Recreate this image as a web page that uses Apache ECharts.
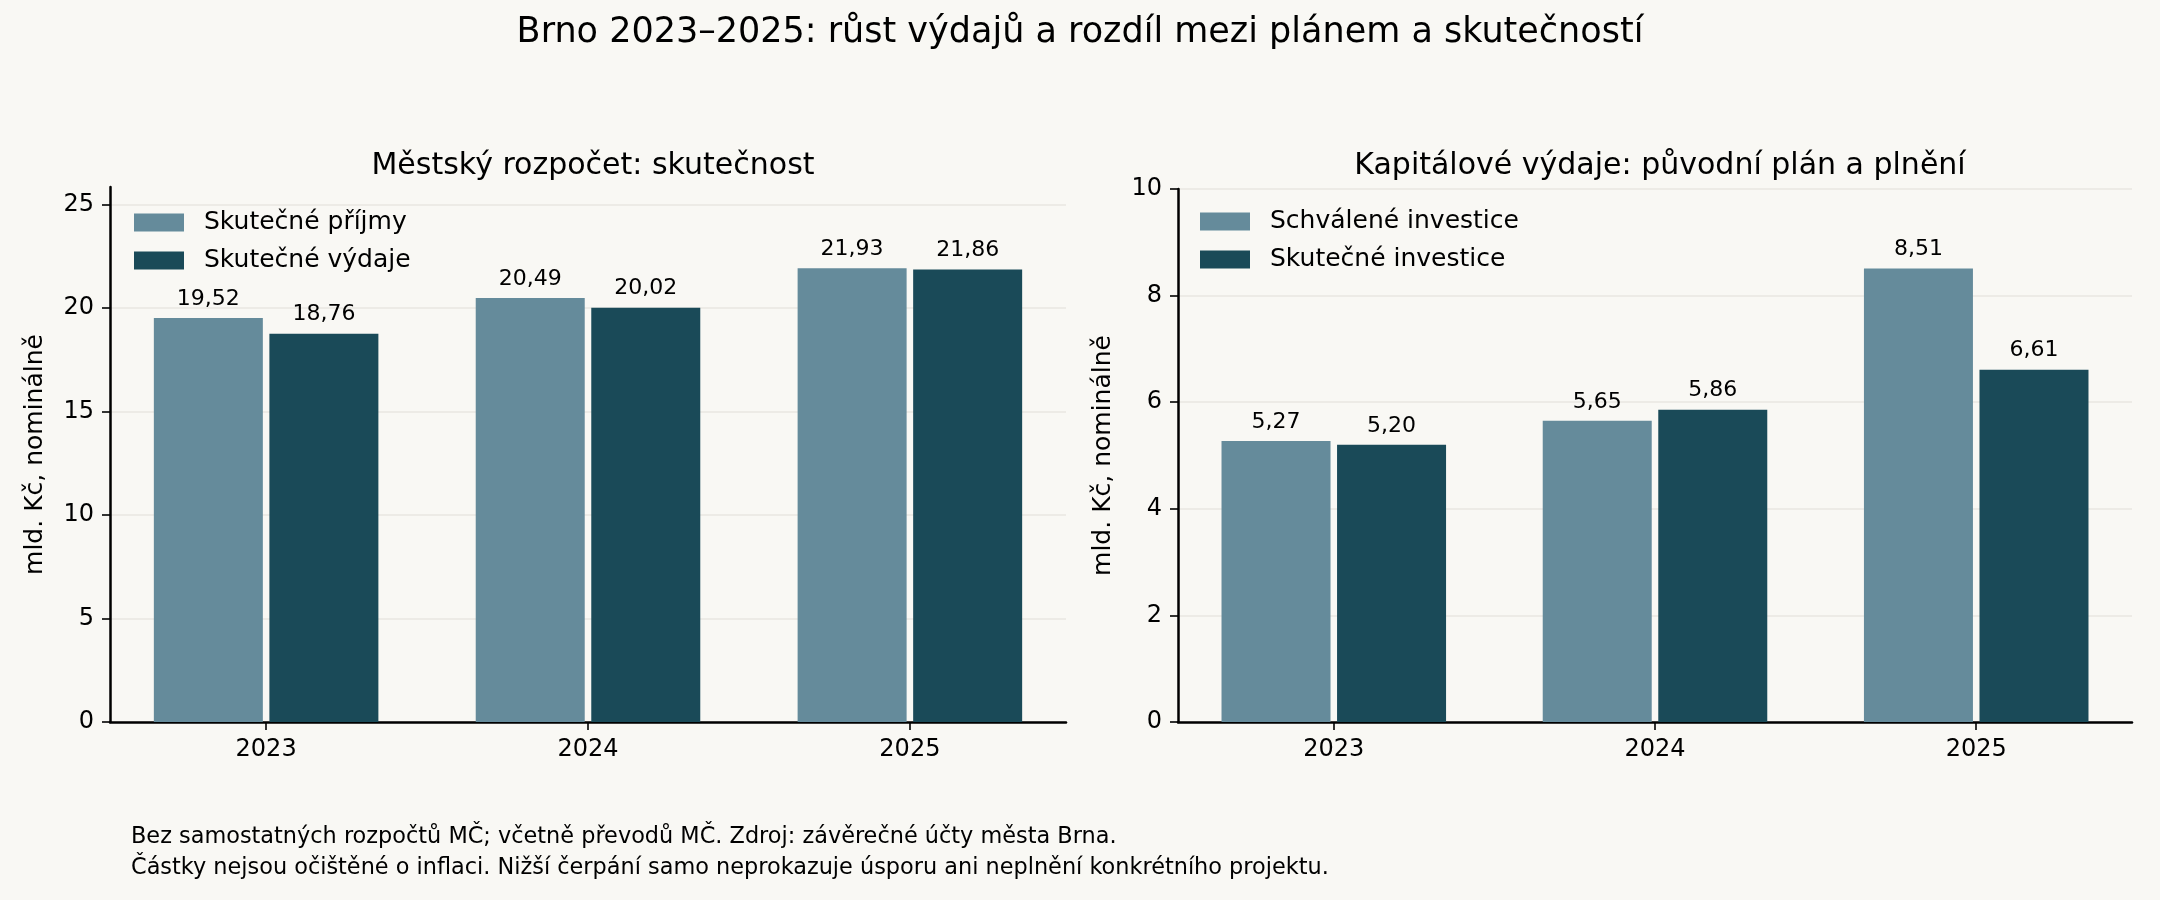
<!DOCTYPE html>
<html>
<head>
<meta charset="utf-8">
<script src="https://cdn.jsdelivr.net/npm/echarts@6/dist/echarts.min.js"></script>
<style>
html,body{margin:0;padding:0;background:#f9f8f4;}
#c{width:2160px;height:900px;}
</style>
</head>
<body>
<div id="c"></div>
<script>
// ---- data ----
const years = ['2023', '2024', '2025'];
const skutecnePrijmy = [19.52, 20.49, 21.93];
const skutecneVydaje = [18.76, 20.02, 21.86];
const schvaleneInvestice = [5.27, 5.65, 8.51];
const skutecneInvestice = [5.20, 5.86, 6.61];
const xTickPositions = [0, 1, 2];
const yTicksLeft = [0, 5, 10, 15, 20, 25];
const yTicksRight = [0, 2, 4, 6, 8, 10];

const FONT = 'DejaVu Sans';
const LIGHT = '#658b9b';
const DARK = '#1a4a58';
const GRID = '#e9e7e2';

const fmt = v => v.toFixed(2).replace('.', ',');

function xAxisCfg(i) {
  return {
    type: 'value', gridIndex: i, min: -0.485, max: 2.485,
    axisLine: {show: true, onZero: false, lineStyle: {color: '#000', width: 2.5}},
    axisTick: {show: true, length: 8, customValues: xTickPositions, lineStyle: {color: '#000', width: 1.6}},
    axisLabel: {show: true, color: '#000', fontFamily: FONT, fontSize: 24, margin: 16,
                customValues: xTickPositions, formatter: v => years[Math.round(v)]},
    splitLine: {show: false}
  };
}
function yAxisCfg(i, max, interval, ticks) {
  return {
    type: 'value', gridIndex: i, min: 0, max: max, interval: interval,
    name: 'mld. Kč, nominálně', nameLocation: 'middle', nameGap: 62,
    nameTextStyle: {color: '#000', fontFamily: FONT, fontSize: 25},
    axisLine: {show: true, onZero: false, lineStyle: {color: '#000', width: 2.5}},
    axisTick: {show: true, length: 8, lineStyle: {color: '#000', width: 1.6}, customValues: ticks},
    axisLabel: {color: '#000', fontFamily: FONT, fontSize: 24, margin: 16, customValues: ticks,
                formatter: v => String(v)},
    splitLine: {show: true, lineStyle: {color: GRID, width: 1.6}}
  };
}
function barSeries(name, vals, color, i) {
  return {
    type: 'bar', name: name, data: vals.map((v, k) => [xTickPositions[k], v]),
    xAxisIndex: i, yAxisIndex: i,
    barWidth: 109, barGap: '6%',
    itemStyle: {color: color},
    label: {show: true, position: 'top', distance: 8, color: '#000',
            fontFamily: FONT, fontSize: 22, formatter: p => fmt(p.value[1])}
  };
}

const chart = echarts.init(document.getElementById('c'), null, {renderer: 'canvas'});
chart.setOption({
  backgroundColor: '#f9f8f4',
  animation: false,
  textStyle: {fontFamily: FONT},
  title: [
    {text: 'Brno 2023–2025: růst výdajů a rozdíl mezi plánem a skutečností', left: 'center', top: 10,
     textStyle: {fontFamily: FONT, fontSize: 35, fontWeight: 'normal', color: '#000'}},
    {text: 'Městský rozpočet: skutečnost', left: 588, top: 146, textAlign: 'center',
     textStyle: {fontFamily: FONT, fontSize: 30, fontWeight: 'normal', color: '#000'}},
    {text: 'Kapitálové výdaje: původní plán a plnění', left: 1655, top: 146, textAlign: 'center',
     textStyle: {fontFamily: FONT, fontSize: 30, fontWeight: 'normal', color: '#000'}}
  ],
  legend: [
    {data: ['Skutečné příjmy', 'Skutečné výdaje'], orient: 'vertical', left: 134, top: 210,
     padding: 0, itemWidth: 50, itemHeight: 18, itemGap: 13, icon: 'rect',
     textStyle: {fontFamily: FONT, fontSize: 25, color: '#000', padding: [0, 0, 0, 15]}},
    {data: ['Schválené investice', 'Skutečné investice'], orient: 'vertical', left: 1200, top: 209,
     padding: 0, itemWidth: 50, itemHeight: 18, itemGap: 13, icon: 'rect',
     textStyle: {fontFamily: FONT, fontSize: 25, color: '#000', padding: [0, 0, 0, 15]}}
  ],
  grid: [
    {left: 110, right: 1094, top: 187, bottom: 178},
    {left: 1178, right: 28, top: 189, bottom: 178}
  ],
  xAxis: [xAxisCfg(0), xAxisCfg(1)],
  yAxis: [yAxisCfg(0, 25.85, 5, yTicksLeft), yAxisCfg(1, 10, 2, yTicksRight)],
  series: [
    barSeries('Skutečné příjmy', skutecnePrijmy, LIGHT, 0),
    barSeries('Skutečné výdaje', skutecneVydaje, DARK, 0),
    barSeries('Schválené investice', schvaleneInvestice, LIGHT, 1),
    barSeries('Skutečné investice', skutecneInvestice, DARK, 1)
  ],
  graphic: [
    {type: 'text', left: 131, top: 822,
     style: {text: 'Bez samostatných rozpočtů MČ; včetně převodů MČ. Zdroj: závěrečné účty města Brna.\nČástky nejsou očištěné o inflaci. Nižší čerpání samo neprokazuje úsporu ani neplnění konkrétního projektu.',
             fontFamily: FONT, fontSize: 22.4, lineHeight: 31, fill: '#000'}}
  ]
});
</script>
</body>
</html>
